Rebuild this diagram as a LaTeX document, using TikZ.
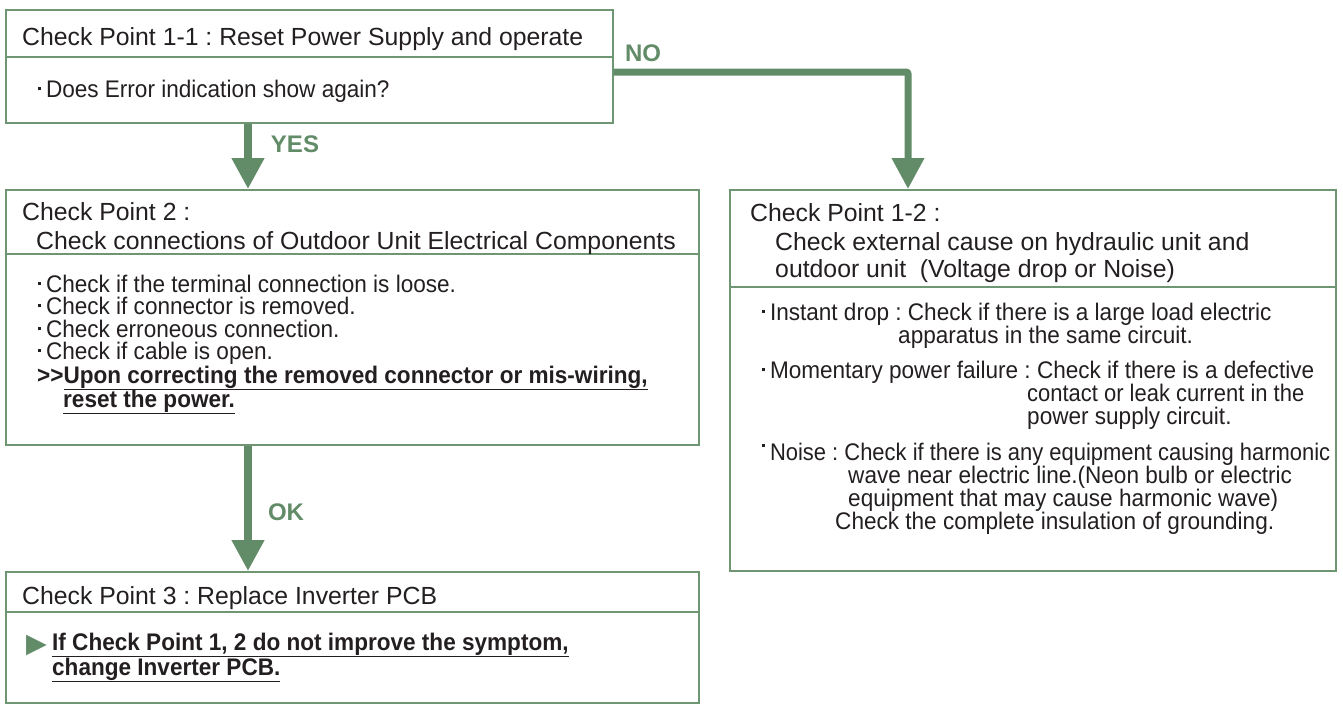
\documentclass[tikz,border=0pt]{standalone}
\usepackage{fontspec}
\setmainfont{Liberation Sans}
\newfontfamily\bodyfont[FakeStretch=0.94]{Liberation Sans}
\newfontfamily\narrowfont[FakeStretch=0.915]{Liberation Sans}
\newfontfamily\symfont{DejaVu Sans}
\usetikzlibrary{arrows.meta}
\definecolor{flowgreen}{RGB}{98,139,104}
\definecolor{boxgreen}{RGB}{110,150,115}
\definecolor{ink}{RGB}{35,31,32}
\frenchspacing
% small square bullets used in the check lists
\newcommand{\sqbullet}{\raisebox{0.28em}{\rule{2.8pt}{2.8pt}}\hspace{5pt}}
\newcommand{\hibullet}{\raisebox{0.55em}{\rule{2.8pt}{2.8pt}}\hspace{5pt}}
\tikzset{
  box/.style={draw=boxgreen, line width=1.6pt, anchor=north west, inner sep=0pt},
  divider/.style={draw=boxgreen, line width=1.6pt},
  head/.style={anchor=base west, inner sep=0pt, text=ink, font=\fontsize{24.8}{25}\selectfont},
  txt/.style={anchor=base west, inner sep=0pt, text=ink, font=\bodyfont\fontsize{24}{24}\selectfont},
  ntxt/.style={txt, font=\narrowfont\fontsize{24}{24}\selectfont},
  btxt/.style={txt, font=\bodyfont\fontsize{24}{24}\selectfont\bfseries},
  lbl/.style={inner sep=0pt, text=flowgreen, font=\fontsize{24}{24}\selectfont\bfseries},
  flow/.style={draw=flowgreen, line width=7.5pt, -{Triangle[width=31pt,length=31pt]}},
  branch/.style={draw=flowgreen, line width=7pt, rounded corners=2pt, -{Triangle[width=31pt,length=31pt]}},
}
\begin{document}
\begin{tikzpicture}[x=1pt,y=-1pt]
\useasboundingbox (0,0) rectangle (1343,709);

% ---- boxes ----
\node[box, minimum width=607pt, minimum height=113pt] (b1) at (5,9) {};
\node[box, minimum width=693pt, minimum height=255pt] (b2) at (5,189) {};
\node[box, minimum width=693pt, minimum height=131pt] (b3) at (5,571) {};
\node[box, minimum width=606pt, minimum height=381pt] (b4) at (729,189) {};

\draw[divider] (b1.west |- 0,57) -- (b1.east |- 0,57);
\draw[divider] (b2.west |- 0,254) -- (b2.east |- 0,254);
\draw[divider] (b3.west |- 0,612) -- (b3.east |- 0,612);
\draw[divider] (b4.west |- 0,287) -- (b4.east |- 0,287);

% ---- connectors ----
\draw[flow] (b1.south -| 248,0) -- (b2.north -| 248,0);
\draw[flow] (b2.south -| 248,0) -- (b3.north -| 248,0);
\draw[branch] (b1.east |- 0,72) -| (b4.north -| 908,0);

\node[lbl] (yes) at (295,144) {YES};
\node[lbl] (no) at (643,53) {NO};
\node[lbl] (ok) at (286,512) {OK};

% ---- Check Point 1-1 ----
\node[head] (t11) at (22,46) {Check Point 1-1 : Reset Power Supply and operate};
\node[txt] (t11a) at (38,97) {\sqbullet Does Error indication show again?};

% ---- Check Point 2 ----
\node[head] (t2) at (22,220) {Check Point 2 :};
\node[head] (t2h) at (36,249) {Check connections of Outdoor Unit Electrical Components};
\node[txt] (t2a) at (38,292) {\sqbullet Check if the terminal connection is loose.};
\node[txt] (t2b) at (38,314) {\sqbullet Check if connector is removed.};
\node[txt] (t2c) at (38,337) {\sqbullet Check erroneous connection.};
\node[txt] (t2d) at (38,359) {\sqbullet Check if cable is open.};
\node[btxt] (t2e) at (37,383) {>{}>\underline{Upon correcting the removed connector or mis-wiring,}};
\node[btxt] (t2f) at (63,407) {\underline{reset the power.}};

% ---- Check Point 3 ----
\node[head] (t3) at (22,604) {Check Point 3 : Replace Inverter PCB};
\node[txt, text=flowgreen] (t3m) at (26,652) {\symfont\fontsize{27}{27}\selectfont ▶};
\node[btxt] (t3a) at (52,650) {\underline{If Check Point 1, 2 do not improve the symptom,}};
\node[btxt] (t3b) at (52,675) {\underline{change Inverter PCB.}};

% ---- Check Point 1-2 ----
\node[head] (t12) at (750,221) {Check Point 1-2 :};
\node[head] (t12h) at (775,250) {Check external cause on hydraulic unit and};
\node[head] (t12i) at (775,277) {outdoor unit\ \ (Voltage drop or Noise)};
\node[txt] (t12a) at (762,320) {\sqbullet Instant drop : Check if there is a large load electric};
\node[txt] (t12b) at (898,343) {apparatus in the same circuit.};
\node[txt] (t12c) at (762,378) {\sqbullet Momentary power failure : Check if there is a defective};
\node[ntxt] (t12d) at (1027,401) {contact or leak current in the};
\node[txt] (t12e) at (1027,424) {power supply circuit.};
\node[ntxt] (t12f) at (762,460) {\hibullet Noise : Check if there is any equipment causing harmonic};
\node[txt] (t12g) at (848,483) {wave near electric line.(Neon bulb or electric};
\node[txt] (t12k) at (848,506) {equipment that may cause harmonic wave)};
\node[txt] (t12l) at (835,529) {Check the complete insulation of grounding.};
\end{tikzpicture}
\end{document}
